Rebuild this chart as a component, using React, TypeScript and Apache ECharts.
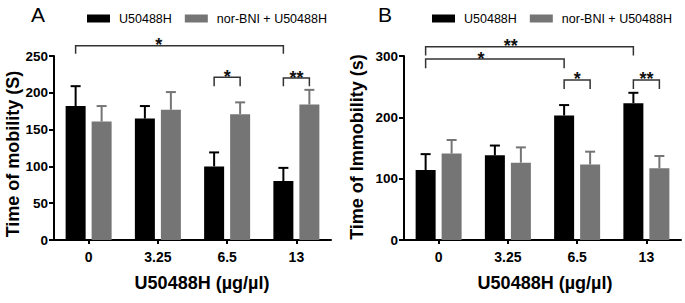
import React, { useEffect, useRef } from "react";
import * as echarts from "echarts";

const categories = ["0", "3.25", "6.5", "13"];
const seriesNames = ["U50488H", "nor-BNI + U50488H"];

// Panel A: Time of mobility (S)
const mobilityU = [182, 165, 100, 80];
const mobilityUErr = [27, 17, 19, 18];
const mobilityN = [161, 177, 171, 184];
const mobilityNErr = [21, 24, 16, 20];

// Panel B: Time of Immobility (s)
const immobU = [114, 138, 203, 223];
const immobUErr = [26, 16, 17, 17];
const immobN = [141, 126, 123, 117];
const immobNErr = [22, 25, 21, 20];

// brackets: [cat1, side1, cat2, side2, level, drop1, drop2, labelPos]
const bracketsA = [
  [0, 0, 3, 0, 264, 253, 253, 0.4],
  [2, 0, 2, 1, 221, 209, 209, 0.5],
  [3, 0, 3, 1, 220, 209, 209, 0.5],
];
const bracketLabelsA = ["*", "*", "**"];
const bracketsB = [
  [0, 0, 3, 0, 315, 301, 301, 0.41],
  [0, 0, 2, 0, 295, 280, 280, 0.4],
  [2, 0, 2, 1, 261, 246, 246, 0.5],
  [3, 0, 3, 1, 261, 246, 246, 0.5],
];
const bracketLabelsB = ["**", "*", "*", "**"];

const BLACK = "#000000";
const GRAY = "#757575";
const FONT = "'Liberation Sans', Arial, Helvetica, sans-serif";
const HALF = 13;

const errRender = (side: number, color: string) => (params: any, api: any) => {
  const c = api.value(0);
  const m = api.value(1);
  const e = api.value(2);
  const p0 = api.coord([c, m]);
  const p1 = api.coord([c, m + e]);
  const x = p0[0] + (side ? HALF : -HALF);
  return {
    type: "group",
    children: [
      { type: "line", shape: { x1: x, y1: p0[1], x2: x, y2: p1[1] }, style: { stroke: color, lineWidth: 2 } },
      { type: "line", shape: { x1: x - 5, y1: p1[1], x2: x + 5, y2: p1[1] }, style: { stroke: color, lineWidth: 2 } },
    ],
  };
};

const bracketRender = (labels: string[]) => (params: any, api: any) => {
  const c1 = api.value(0), s1 = api.value(1), c2 = api.value(2), s2 = api.value(3);
  const lv = api.value(4), d1 = api.value(5), d2 = api.value(6), t = api.value(7);
  const a = api.coord([c1, lv]);
  const b = api.coord([c2, lv]);
  const x1 = a[0] + (s1 ? HALF : -HALF);
  const x2 = b[0] + (s2 ? HALF : -HALF);
  const y = a[1];
  const yd1 = api.coord([c1, d1])[1];
  const yd2 = api.coord([c2, d2])[1];
  return {
    type: "group",
    children: [
      {
        type: "polyline",
        shape: { points: [[x1, yd1], [x1, y], [x2, y], [x2, yd2]] },
        style: { stroke: "#333333", lineWidth: 1.5, fill: "none" },
      },
      {
        type: "text",
        x: x1 + (x2 - x1) * t,
        y: y - 0.5,
        style: {
          text: labels[params.dataIndex],
          align: "center",
          verticalAlign: "middle",
          fontSize: 18,
          fontWeight: "bold",
          fontFamily: FONT,
          fill: "#111111",
        },
      },
    ],
  };
};

function makeXAxis(gridIndex: number) {
  return {
    type: "category",
    gridIndex,
    data: categories,
    axisLine: { show: true, lineStyle: { color: BLACK, width: 2 } },
    axisTick: { show: true, alignWithLabel: true, length: 4, lineStyle: { color: BLACK, width: 2 } },
    axisLabel: { color: BLACK, fontSize: 14, fontWeight: "bold", fontFamily: FONT, margin: 10 },
    splitLine: { show: false },
  };
}

function makeYAxis(gridIndex: number, max: number, interval: number) {
  return {
    type: "value",
    gridIndex,
    min: 0,
    max,
    interval,
    axisLine: { show: true, lineStyle: { color: BLACK, width: 2 } },
    axisTick: { show: true, length: 5, lineStyle: { color: BLACK, width: 2 } },
    axisLabel: { color: BLACK, fontSize: 13.5, fontWeight: "bold", fontFamily: FONT, margin: 6 },
    splitLine: { show: false },
  };
}

function barSeries(name: string, data: number[], color: string, idx: number) {
  return {
    type: "bar",
    name,
    xAxisIndex: idx,
    yAxisIndex: idx,
    data,
    barWidth: 20,
    barGap: "30%",
    itemStyle: { color },
  };
}

function errSeries(vals: number[], errs: number[], side: number, color: string, idx: number) {
  return {
    type: "custom",
    xAxisIndex: idx,
    yAxisIndex: idx,
    z: 5,
    silent: true,
    renderItem: errRender(side, color),
    data: vals.map((v, i) => [i, v, errs[i]]),
  };
}

function bracketSeries(data: number[][], labels: string[], idx: number) {
  return {
    type: "custom",
    xAxisIndex: idx,
    yAxisIndex: idx,
    z: 6,
    silent: true,
    clip: false,
    renderItem: bracketRender(labels),
    data,
  };
}

function legendAt(left: number) {
  return {
    left,
    top: 7,
    itemWidth: 23,
    itemHeight: 8,
    itemGap: 13,
    icon: "rect",
    selectedMode: false,
    data: seriesNames,
    textStyle: { color: BLACK, fontSize: 12.5, fontFamily: FONT, padding: [0, 0, 0, 4] },
  };
}

function titleText(text: string, x: number, y: number, size: number, bold: boolean, rotate = false) {
  return {
    type: "text",
    x,
    y,
    rotation: rotate ? Math.PI / 2 : 0,
    style: {
      text,
      align: "center",
      verticalAlign: "middle",
      fontSize: size,
      fontWeight: bold ? "bold" : "normal",
      fontFamily: FONT,
      fill: BLACK,
    },
  };
}

export default function App() {
  const ref = useRef<HTMLDivElement>(null);
  useEffect(() => {
    if (!ref.current) return;
    const chart = echarts.init(ref.current, undefined, { renderer: "svg" });
    chart.setOption({
      animation: false,
      backgroundColor: "#ffffff",
      textStyle: { fontFamily: FONT },
      grid: [
        { left: 54, top: 56, width: 277, height: 184 },
        { left: 404, top: 56, width: 277, height: 184 },
      ],
      xAxis: [makeXAxis(0), makeXAxis(1)],
      yAxis: [makeYAxis(0, 250, 50), makeYAxis(1, 300, 100)],
      legend: [legendAt(82), legendAt(427)],
      series: [
        barSeries(seriesNames[0], mobilityU, BLACK, 0),
        barSeries(seriesNames[1], mobilityN, GRAY, 0),
        barSeries(seriesNames[0], immobU, BLACK, 1),
        barSeries(seriesNames[1], immobN, GRAY, 1),
        errSeries(mobilityU, mobilityUErr, 0, BLACK, 0),
        errSeries(mobilityN, mobilityNErr, 1, GRAY, 0),
        errSeries(immobU, immobUErr, 0, BLACK, 1),
        errSeries(immobN, immobNErr, 1, GRAY, 1),
        bracketSeries(bracketsA, bracketLabelsA, 0),
        bracketSeries(bracketsB, bracketLabelsB, 1),
      ],
      graphic: [
        titleText("A", 38, 14, 21, false),
        titleText("B", 385, 14, 21, false),
        titleText("Time of mobility (S)", 13, 154, 18, true, true),
        titleText("Time of Immobility (s)", 357, 147, 18, true, true),
        titleText("U50488H (µg/µl)", 202, 283, 18, true),
        titleText("U50488H (µg/µl)", 545, 283, 18, true),
      ],
    });
    return () => chart.dispose();
  }, []);
  return (
    <div
      ref={ref}
      style={{ position: "fixed", left: 0, top: 0, width: 685, height: 303, background: "#fff" }}
    />
  );
}
